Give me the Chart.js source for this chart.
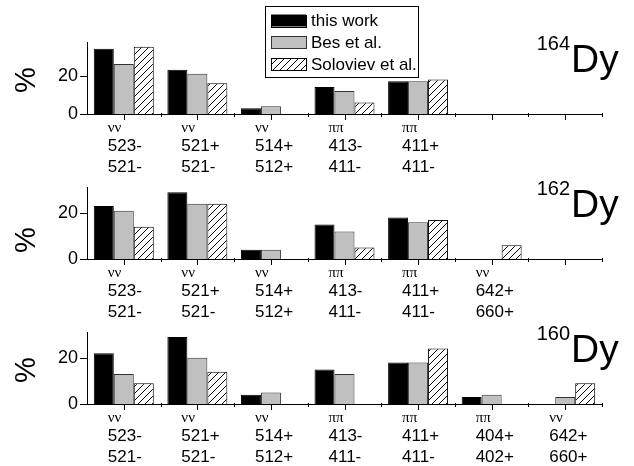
<!DOCTYPE html>
<html>
<head>
<meta charset="utf-8">
<script src="https://cdn.jsdelivr.net/npm/chart.js@4.4.1/dist/chart.umd.min.js"></script>
<style>
  html, body { margin: 0; padding: 0; background: #fff; }
  #wrap { position: relative; width: 634px; height: 466px; overflow: hidden; }
  .panel { position: absolute; left: 0; width: 634px; height: 176px; }
</style>
</head>
<body>
<div id="wrap">
  <div class="panel" style="top:0px"><canvas id="dy164"></canvas></div>
  <div class="panel" style="top:145px"><canvas id="dy162"></canvas></div>
  <div class="panel" style="top:290px"><canvas id="dy160"></canvas></div>
</div>
<script>
/* =========================
   DATA
========================= */

const series = ["this work", "Bes et al.", "Soloviev et al."];

// 164Dy
const types164 = ["νν", "νν", "νν", "ππ", "ππ", "", ""];
const orbits164 = [["523-", "521-"], ["521+", "521-"], ["514+", "512+"], ["413-", "411-"], ["411+", "411-"], "", ""];
const work164 = [34, 23, 3, 14, 17, null, null];
const bes164 = [26, 21, 4, 12, 17, null, null];
const sol164 = [35, 16, null, 6, 18, null, null];

// 162Dy
const types162 = ["νν", "νν", "νν", "ππ", "ππ", "νν", ""];
const orbits162 = [["523-", "521-"], ["521+", "521-"], ["514+", "512+"], ["413-", "411-"], ["411+", "411-"], ["642+", "660+"], ""];
const work162 = [23, 29, 4, 15, 18, null, null];
const bes162 = [21, 24, 4, 12, 16, null, null];
const sol162 = [14, 24, null, 5, 17, 6, null];

// 160Dy
const types160 = ["νν", "νν", "νν", "ππ", "ππ", "ππ", "νν"];
const orbits160 = [["523-", "521-"], ["521+", "521-"], ["514+", "512+"], ["413-", "411-"], ["411+", "411-"], ["404+", "402+"], ["642+", "660+"]];
const work160 = [22, 29, 4, 15, 18, 3, null];
const bes160 = [13, 20, 5, 13, 18, 4, 3];
const sol160 = [9, 14, null, null, 24, null, 9];

const yTicks = [0, 20];

/* =========================
   HATCH
========================= */

function makeHatch() {
  const s = 7;
  const c = document.createElement("canvas");
  c.width = s; c.height = s;
  const g = c.getContext("2d");
  g.fillStyle = "#fff";
  g.fillRect(0, 0, s, s);
  g.strokeStyle = "#000";
  g.lineWidth = 1;
  g.beginPath();
  g.moveTo(0, s); g.lineTo(s, 0);
  g.moveTo(-1, 1); g.lineTo(1, -1);
  g.moveTo(s - 1, s + 1); g.lineTo(s + 1, s - 1);
  g.stroke();
  return document.createElement("canvas").getContext("2d").createPattern(c, "repeat");
}
const hatch = makeHatch();

/* =========================
   PLUGINS
========================= */

const tickMarks = {
  id: "tickMarks",
  afterDraw(chart) {
    const { ctx, chartArea: a } = chart;
    const x = chart.scales.x, y = chart.scales.y;
    const n = chart.data.labels.length;
    ctx.save();
    ctx.strokeStyle = "#000";
    ctx.lineWidth = 1;
    ctx.beginPath();
    for (let i = 0; i < n; i++) {
      const c = Math.round(x.getPixelForValue(i)) + 0.5;
      ctx.moveTo(c, a.bottom); ctx.lineTo(c, a.bottom + 6);
      const b = Math.round(x.getPixelForValue(i + 0.5)) + 0.5;
      ctx.moveTo(b, a.bottom - 1); ctx.lineTo(b, a.bottom + 3);
    }
    y.ticks.forEach(t => {
      const py = Math.round(y.getPixelForValue(t.value)) + 0.5;
      const len = yTicks.includes(t.value) ? 7 : 4;
      ctx.moveTo(a.left - len, py); ctx.lineTo(a.left, py);
    });
    ctx.stroke();
    ctx.restore();
  }
};

const panelText = {
  id: "panelText",
  afterDraw(chart, args, opts) {
    const { ctx, chartArea: a } = chart;
    ctx.save();
    ctx.fillStyle = "#000";
    // % label
    ctx.translate(27, opts.pctY);
    ctx.rotate(-Math.PI / 2);
    ctx.font = "29px 'Liberation Sans', Arial, sans-serif";
    ctx.textAlign = "center";
    ctx.textBaseline = "middle";
    ctx.fillText("%", 0, 0);
    ctx.restore();

    ctx.save();
    ctx.fillStyle = "#000";
    ctx.textBaseline = "alphabetic";
    ctx.font = "20px 'Liberation Sans', Arial, sans-serif";
    ctx.textAlign = "right";
    ctx.fillText(opts.iso, 570, a.top + 8);
    ctx.font = "39px 'Liberation Sans', Arial, sans-serif";
    ctx.textAlign = "left";
    ctx.fillText("Dy", 571, a.top + 30);
    ctx.restore();
  }
};

const boxLegend = {
  id: "boxLegend",
  afterDraw(chart, args, opts) {
    if (!opts.show) return;
    const { ctx } = chart;
    ctx.save();
    ctx.fillStyle = "#fff";
    ctx.fillRect(265, 6, 153, 71);
    ctx.strokeStyle = "#000";
    ctx.lineWidth = 1;
    ctx.strokeRect(265.5, 6.5, 153, 71);
    ctx.font = "17px 'Liberation Sans', Arial, sans-serif";
    ctx.textBaseline = "middle";
    chart.data.datasets.forEach((ds, i) => {
      const cy = 20.5 + i * 21.8;
      ctx.fillStyle = ds.backgroundColor;
      ctx.fillRect(271, cy - 6, 35, 12);
      ctx.strokeStyle = ds.borderColor;
      ctx.strokeRect(271.5, Math.round(cy - 6) + 0.5, 35, 12);
      ctx.fillStyle = "#000";
      ctx.fillText(ds.label, 311, cy + 1);
    });
    ctx.restore();
  }
};

/* =========================
   PANELS
========================= */

function makePanel(id, types, orbits, work, bes, sol, yMax, iso, pctY, legend) {
  return new Chart(document.getElementById(id), {
    type: "bar",
    data: {
      labels: types,
      datasets: [
        { label: series[0], data: work, backgroundColor: "#000", borderColor: "#000", borderWidth: 1 },
        { label: series[1], data: bes, backgroundColor: "#c0c0c0", borderColor: "#333", borderWidth: 1 },
        { label: series[2], data: sol, backgroundColor: hatch, borderColor: "#000", borderWidth: 1 }
      ]
    },
    options: {
      animation: false,
      responsive: true,
      maintainAspectRatio: false,
      layout: { padding: { top: 42, right: 32, left: 0, bottom: 0 } },
      datasets: { bar: { barPercentage: 1, categoryPercentage: 0.815 } },
      plugins: {
        legend: { display: false },
        tooltip: { enabled: false },
        panelText: { iso: iso, pctY: pctY },
        boxLegend: { show: legend }
      },
      scales: {
        x: {
          type: "category",
          offset: true,
          weight: 0,
          grid: { display: false, drawTicks: false },
          border: { color: "#000", width: 1 },
          ticks: {
            color: "#000",
            font: { family: "'Liberation Serif', 'DejaVu Serif', serif", size: 15 },
            align: "start",
            labelOffset: -16,
            padding: 5,
            autoSkip: false,
            maxRotation: 0
          },
          afterFit(s) { s.height = 20; }
        },
        x2: {
          type: "category",
          labels: orbits,
          offset: true,
          position: "bottom",
          weight: 1,
          grid: { display: false, drawTicks: false },
          border: { display: false },
          ticks: {
            color: "#000",
            font: { family: "'Liberation Sans', Arial, sans-serif", size: 17, lineHeight: "21px" },
            align: "start",
            labelOffset: -16,
            padding: 2,
            autoSkip: false,
            maxRotation: 0
          },
          afterFit(s) { s.height = 42; }
        },
        y: {
          min: 0,
          max: yMax,
          grid: { display: false, drawTicks: false },
          border: { color: "#000", width: 1 },
          ticks: {
            stepSize: 10,
            includeBounds: false,
            padding: 9,
            color: "#000",
            font: { family: "'Liberation Sans', Arial, sans-serif", size: 18 },
            callback: v => (yTicks.includes(v) ? v : "")
          },
          afterFit(s) { s.width = 87; }
        }
      }
    },
    plugins: [tickMarks, panelText, boxLegend]
  });
}

makePanel("dy164", types164, orbits164, work164, bes164, sol164, 37.5, "164", 80, true);
makePanel("dy162", types162, orbits162, work162, bes162, sol162, 31.3, "162", 95, false);
makePanel("dy160", types160, orbits160, work160, bes160, sol160, 31.2, "160", 80, false);
</script>
</body>
</html>
